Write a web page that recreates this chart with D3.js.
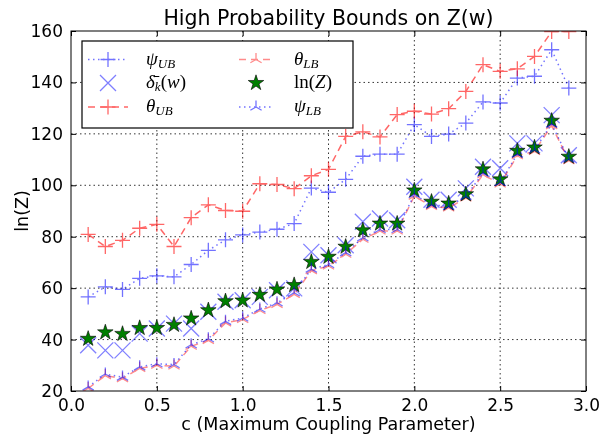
<!DOCTYPE html>
<html>
<head>
<meta charset="utf-8">
<style>
  body { margin: 0; background: #fff; }
  svg { display: block; }
  .axis text { font-family: "DejaVu Sans", sans-serif; font-size: 17px; fill: #000; }
  .axis path, .axis line { stroke: #000; }
  .grid line { stroke: #000; stroke-width: 0.8; stroke-dasharray: 1.5, 3; }
  .leg { font-family: "Liberation Serif", serif; font-size: 19px; }
</style>
</head>
<body>
<svg width="599" height="435"></svg>
<script src="https://cdn.jsdelivr.net/npm/d3@7"></script>
<script>

// c values (Maximum Coupling Parameter)
var cVals = [0.1, 0.2, 0.3, 0.4, 0.5, 0.6, 0.7, 0.8, 0.9, 1.0,
             1.1, 1.2, 1.3, 1.4, 1.5, 1.6, 1.7, 1.8, 1.9, 2.0,
             2.1, 2.2, 2.3, 2.4, 2.5, 2.6, 2.7, 2.8, 2.9];

var psiUB   = [56.6, 60.5, 59.5, 63.8, 64.8, 64.4, 69.2, 74.7, 78.8, 80.7,
               81.8, 82.9, 85.1, 98.9, 97.3, 102.3, 111.3, 112.1, 112.1, 123.6,
               119.0, 119.9, 124.2, 132.4, 132.0, 141.7, 142.4, 152.7, 137.8];
var deltaK  = [37.8, 35.8, 35.8, 42.3, 44.3, 46.2, 44.3, 50.8, 54.7, 55.3,
               56.6, 59.2, 59.9, 74.1, 72.8, 76.7, 85.8, 87.1, 86.4, 99.4,
               94.4, 94.4, 98.8, 107.2, 106.6, 116.3, 116.3, 127.3, 111.7];
var thetaUB = [80.9, 76.2, 78.6, 83.3, 84.8, 76.2, 87.4, 92.4, 90.2, 89.9,
               100.6, 100.3, 98.7, 103.7, 106.2, 119.0, 120.8, 118.8, 127.5, 128.8,
               127.7, 129.8, 136.5, 146.9, 144.3, 145.3, 150.1, 159.8, 159.8];
var thetaLB = [21.0, 26.0, 24.8, 28.8, 30.0, 29.7, 37.4, 39.7, 46.5, 47.8,
               51.3, 53.7, 57.6, 66.8, 68.6, 73.2, 79.0, 82.2, 82.2, 95.8,
               91.8, 91.2, 95.1, 104.1, 100.5, 111.5, 113.2, 123.2, 109.6];
var lnZ     = [40.3, 42.8, 42.2, 44.5, 44.5, 45.7, 48.2, 51.4, 54.9, 55.2,
               57.4, 59.5, 61.2, 70.2, 72.2, 76.1, 82.5, 85.1, 85.1, 98.0,
               93.6, 92.9, 96.5, 106.2, 102.3, 113.4, 114.7, 125.1, 111.1];
var psiLB   = [21.6, 26.6, 25.4, 29.4, 30.6, 30.3, 38.0, 40.3, 47.1, 48.4,
               51.9, 54.3, 58.2, 67.4, 69.2, 73.8, 79.6, 82.8, 82.8, 96.4,
               92.4, 91.8, 95.7, 104.7, 101.1, 112.1, 113.8, 123.8, 110.2];

var xTicks = [0.0, 0.5, 1.0, 1.5, 2.0, 2.5, 3.0];
var yTicks = [20, 40, 60, 80, 100, 120, 140, 160];

var svg = d3.select("svg"),
    margin = {top: 31, right: 13, bottom: 44, left: 71},
    width = +svg.attr("width") - margin.left - margin.right,
    height = +svg.attr("height") - margin.top - margin.bottom,
    g = svg.append("g").attr("transform", "translate(" + margin.left + "," + margin.top + ")");

var x = d3.scaleLinear().domain([0, 3]).range([0, width]);
var y = d3.scaleLinear().domain([20, 160]).range([height, 0]);

svg.append("defs").append("clipPath").attr("id", "clip")
  .append("rect").attr("width", width).attr("height", height);

// grid
g.append("g").attr("class", "grid")
  .selectAll("line").data(xTicks.slice(1, -1)).enter().append("line")
    .attr("x1", x).attr("x2", x).attr("y1", 0).attr("y2", height);
g.append("g").attr("class", "grid")
  .selectAll("line").data(yTicks.slice(1, -1)).enter().append("line")
    .attr("y1", y).attr("y2", y).attr("x1", 0).attr("x2", width);

// marker shapes
function plus(s) { return "M" + (-s) + ",0H" + s + "M0," + (-s) + "V" + s; }
function cross(s) { return "M" + (-s) + "," + (-s) + "L" + s + "," + s + "M" + (-s) + "," + s + "L" + s + "," + (-s); }
function triUp(s) {
  var a = s * 0.866, b = s * 0.5;
  return "M0,0V" + (-s) + "M0,0L" + (-a) + "," + b + "M0,0L" + a + "," + b;
}
var star = d3.symbol().type(d3.symbolStar).size(75)();

var series = [
  {key: "psiUB", vals: psiUB, color: "#0000ff", dash: "1.5,3.5", lw: 1.5, marker: plus(7.5), op: 0.55},
  {key: "delta", vals: deltaK, color: "#0000ff", dash: null, lw: 1, marker: cross(8), op: 0.5, noLine: true},
  {key: "thetaUB", vals: thetaUB, color: "#ff0000", dash: "7,5", lw: 1.5, marker: plus(7.5), op: 0.6},
  {key: "thetaLB", vals: thetaLB, color: "#ff0000", dash: "7,5", lw: 1.5, marker: triUp(6.5), op: 0.45},
  {key: "lnZ", vals: lnZ, star: true},
  {key: "psiLB", vals: psiLB, color: "#0000ff", dash: "1.5,3.5", lw: 1.5, marker: triUp(6.5), op: 0.55}
];

var plot = g.append("g").attr("clip-path", "url(#clip)");
var line = d3.line().x(function(d) { return x(d[0]); }).y(function(d) { return y(d[1]); });

series.forEach(function(s) {
  var pts = cVals.map(function(c, i) { return [c, s.vals[i]]; });
  var sg = plot.append("g");
  if (s.star) {
    sg.selectAll("path").data(pts).enter().append("path")
      .attr("d", star)
      .attr("transform", function(d) { return "translate(" + x(d[0]) + "," + y(d[1]) + ")"; })
      .attr("fill", "#007f00").attr("stroke", "#000").attr("stroke-width", 0.6);
    return;
  }
  sg.attr("opacity", s.op);
  if (!s.noLine) {
    sg.append("path").datum(pts)
      .attr("d", line).attr("fill", "none")
      .attr("stroke", s.color).attr("stroke-width", s.lw)
      .attr("stroke-dasharray", s.dash);
  }
  sg.selectAll(".m").data(pts).enter().append("path")
    .attr("class", "m")
    .attr("d", s.marker)
    .attr("transform", function(d) { return "translate(" + x(d[0]) + "," + y(d[1]) + ")"; })
    .attr("fill", "none").attr("stroke", s.color).attr("stroke-width", 1.3);
});

// axes (ticks inward on all sides)
var fmtX = d3.format(".1f");
g.append("g").attr("class", "axis")
  .attr("transform", "translate(0," + height + ")")
  .call(d3.axisBottom(x).tickValues(xTicks).tickFormat(fmtX).tickSizeInner(-5).tickSizeOuter(0).tickPadding(8))
  .call(function(a) { a.select(".domain").remove(); });
g.append("g").attr("class", "axis")
  .call(d3.axisTop(x).tickValues(xTicks).tickFormat("").tickSizeInner(-5).tickSizeOuter(0))
  .call(function(a) { a.select(".domain").remove(); });
g.append("g").attr("class", "axis")
  .call(d3.axisLeft(y).tickValues(yTicks).tickSizeInner(-5).tickSizeOuter(0).tickPadding(8))
  .call(function(a) { a.select(".domain").remove(); });
g.append("g").attr("class", "axis")
  .attr("transform", "translate(" + width + ",0)")
  .call(d3.axisRight(y).tickValues(yTicks).tickFormat("").tickSizeInner(-5).tickSizeOuter(0))
  .call(function(a) { a.select(".domain").remove(); });

g.append("rect").attr("width", width).attr("height", height)
  .attr("fill", "none").attr("stroke", "#000").attr("stroke-width", 1);

// title and labels
svg.append("text")
  .attr("x", margin.left + width / 2).attr("y", 25)
  .attr("text-anchor", "middle")
  .style("font-family", "DejaVu Sans, sans-serif").style("font-size", "20.5px")
  .text("High Probability Bounds on Z(w)");
svg.append("text")
  .attr("x", margin.left + width / 2).attr("y", 430)
  .attr("text-anchor", "middle")
  .style("font-family", "DejaVu Sans, sans-serif").style("font-size", "17.5px")
  .text("c (Maximum Coupling Parameter)");
svg.append("text")
  .attr("transform", "translate(28," + (margin.top + height / 2) + ")rotate(-90)")
  .attr("text-anchor", "middle")
  .style("font-family", "DejaVu Sans, sans-serif").style("font-size", "17.5px")
  .text("ln(Z)");

// legend
var leg = svg.append("g").attr("class", "leg");
leg.append("rect").attr("x", 82).attr("y", 41).attr("width", 271).attr("height", 87)
  .attr("fill", "#fff").attr("stroke", "#000").attr("stroke-width", 1.2);

var legItems = [
  {s: series[0], col: 0, row: 0, label: [["ψ", "i"], ["UB", "sub"]]},
  {s: series[1], col: 0, row: 1, label: [["δ̄", "i"], ["k", "sub"], ["(", "n"], ["w", "i"], [")", "n"]]},
  {s: series[2], col: 0, row: 2, label: [["θ", "i"], ["UB", "sub"]]},
  {s: series[3], col: 1, row: 0, label: [["θ", "i"], ["LB", "sub"]]},
  {s: series[4], col: 1, row: 1, label: [["ln(", "n"], ["Z", "i"], [")", "n"]]},
  {s: series[5], col: 1, row: 2, label: [["ψ", "i"], ["LB", "sub"]]}
];
var colX = [88, 239], colW = [40, 34], textX = [146, 294], rowY = [59.5, 83, 107];

legItems.forEach(function(it) {
  var s = it.s, cy = rowY[it.row], x0 = colX[it.col], w = colW[it.col];
  var hg = leg.append("g");
  if (s.star) {
    hg.append("path").attr("d", star)
      .attr("transform", "translate(" + (x0 + w / 2) + "," + cy + ")")
      .attr("fill", "#007f00").attr("stroke", "#000").attr("stroke-width", 0.6);
  } else {
    hg.attr("opacity", s.op);
    if (!s.noLine) {
      hg.append("line").attr("x1", x0).attr("x2", x0 + w).attr("y1", cy).attr("y2", cy)
        .attr("stroke", s.color).attr("stroke-width", s.lw).attr("stroke-dasharray", s.dash);
    }
    hg.append("path").attr("d", s.marker)
      .attr("transform", "translate(" + (x0 + w / 2) + "," + cy + ")")
      .attr("fill", "none").attr("stroke", s.color).attr("stroke-width", 1.3);
  }
  var t = leg.append("text").attr("x", textX[it.col]).attr("y", cy + 5);
  var shifted = 0;
  it.label.forEach(function(p) {
    var ts = t.append("tspan").text(p[0]);
    if (p[1] === "i") ts.style("font-style", "italic");
    if (p[1] === "sub") {
      ts.style("font-style", "italic").style("font-size", "13px").attr("dy", 3);
      shifted = 3;
    } else if (shifted) {
      ts.attr("dy", -shifted);
      shifted = 0;
    }
  });
});

</script>
</body>
</html>
